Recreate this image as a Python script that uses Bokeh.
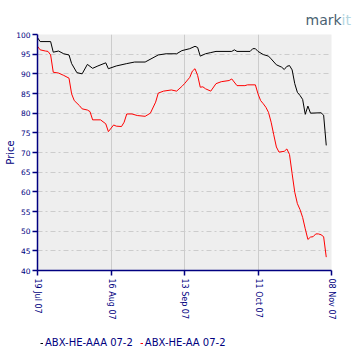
import pandas as pd
from bokeh.plotting import figure
from bokeh.layouts import column
from bokeh.models import (Range1d, FixedTicker, DatetimeTickFormatter, Legend,
                          LegendItem, ColumnDataSource, Div)
from bokeh.embed import file_html
from bokeh.resources import INLINE

start_date = "2007-07-19"
tick_dates = ["2007-07-19", "2007-08-16", "2007-09-13", "2007-10-11", "2007-11-08"]
y_ticks = [40, 45, 50, 55, 60, 65, 70, 75, 80, 85, 90, 95, 100]

aaa_days = [0, 1, 5, 6, 8, 10, 12, 13, 15, 17, 19, 21, 23, 26, 27, 30, 34, 37, 41, 46,
            49, 53, 55, 58, 60, 61, 62, 64, 66, 68, 74, 75, 76, 81, 82, 83, 84, 86, 88,
            89, 91, 93, 94, 95, 96, 97, 98, 99, 100, 101, 102, 103, 104, 108, 109, 110]
aaa_price = [99.2, 98.2, 98.2, 95.5, 95.8, 95.1, 94.8, 92.6, 90.3, 90.0, 92.4, 91.4, 92.0,
             92.8, 91.3, 92.0, 92.6, 93.0, 93.0, 94.8, 95.1, 95.1, 95.9, 96.4, 97.0, 96.7,
             94.5, 95.1, 95.4, 95.7, 95.7, 96.1, 95.7, 95.7, 96.4, 96.4, 95.7, 94.9, 94.5,
             93.8, 92.3, 91.7, 91.1, 91.9, 92.1, 91.0, 87.5, 85.3, 84.5, 83.5, 79.7, 81.8,
             80.0, 80.1, 79.5, 71.8]

aa_days = [0, 1, 3, 4, 5, 6, 8, 10, 12, 13, 14, 16, 17, 19, 20, 21, 24, 26, 27, 29, 30,
           32, 33, 34, 36, 38, 41, 43, 45, 46, 48, 51, 53, 55, 56, 58, 59, 60, 61, 62, 63,
           64, 66, 68, 70, 73, 74, 76, 79, 80, 83, 84, 85, 86, 87, 88, 89, 90, 91, 92, 94,
           95, 96, 97, 98, 99, 100, 101, 102, 103, 104, 105, 106, 107, 108, 109, 110]
aa_price = [97.0, 96.1, 95.8, 95.7, 94.8, 90.4, 90.2, 89.6, 88.9, 84.9, 83.2, 81.9, 81.1,
            80.8, 80.4, 78.3, 78.3, 77.3, 75.3, 77.0, 76.7, 76.6, 77.7, 79.8, 79.8, 79.4,
            79.2, 80.0, 82.8, 85.1, 85.6, 85.9, 85.6, 86.8, 87.5, 89.1, 90.7, 91.3, 89.6,
            86.6, 86.7, 86.2, 85.6, 87.5, 88.0, 88.3, 88.7, 87.0, 87.0, 87.2, 87.2, 84.9,
            83.2, 82.4, 81.5, 80.2, 77.7, 74.5, 71.4, 70.1, 70.3, 70.9, 69.5, 64.6, 59.9,
            57.0, 55.5, 53.5, 50.6, 47.9, 48.5, 48.6, 49.3, 49.3, 49.1, 48.6, 43.4]

series_names = ["ABX-HE-AAA 07-2", "ABX-HE-AA 07-2"]
y_title = "Price"
logo_parts = ["mark", "it"]

t0 = pd.Timestamp(start_date)
aaa_src = ColumnDataSource(dict(x=t0 + pd.to_timedelta(aaa_days, unit="D"), y=aaa_price))
aa_src = ColumnDataSource(dict(x=t0 + pd.to_timedelta(aa_days, unit="D"), y=aa_price))

ticks_dt = [pd.Timestamp(d) for d in tick_dates]
tick_ms = [d.value // 10**6 for d in ticks_dt]

NAVY = "#000080"
W = 360

# ---------- top strip: markit logo ----------
logo = Div(text=('<div style="font-family:\'DejaVu Sans\'; font-size:14px; '
                 'line-height:14px; text-align:right; width:360px; height:28px; '
                 'box-sizing:border-box; padding:13px 9px 0 0; margin:0;">'
                 f'<span style="color:#4a6272">{logo_parts[0]}</span>'
                 f'<span style="color:#b4d6df">{logo_parts[1]}</span></div>'),
           width=W, height=28, margin=0)

# ---------- main chart ----------
p = figure(width=W, height=294, output_backend="svg", toolbar_location=None,
           x_axis_type="datetime",
           x_range=Range1d(ticks_dt[0], ticks_dt[-1]), y_range=Range1d(40, 100),
           min_border_left=37, min_border_right=29, min_border_top=6,
           min_border_bottom=52)
p.background_fill_color = "#eeeeee"
p.border_fill_color = "white"
p.outline_line_color = None

p.line("x", "y", source=aaa_src, color="black", line_width=1)
p.line("x", "y", source=aa_src, color="#ff0000", line_width=1)

for ax in (p.xaxis[0], p.yaxis[0]):
    ax.axis_line_color = NAVY
    ax.axis_line_width = 1.5
    ax.major_tick_line_color = NAVY
    ax.major_tick_line_width = 1.5
    ax.minor_tick_line_color = None
    ax.major_tick_in = 0
    ax.major_tick_out = 5
    ax.major_label_text_color = NAVY
    ax.major_label_text_font = "DejaVu Sans"
    ax.major_label_text_font_size = "7.5px"

p.yaxis.ticker = FixedTicker(ticks=y_ticks)
p.yaxis.major_label_standoff = 2
p.yaxis.axis_label = y_title
p.yaxis.axis_label_standoff = -3
p.yaxis.axis_label_text_font = "DejaVu Sans"
p.yaxis.axis_label_text_font_size = "10px"
p.yaxis.axis_label_text_font_style = "normal"
p.yaxis.axis_label_text_color = NAVY

p.xaxis.ticker = FixedTicker(ticks=tick_ms)
p.xaxis.formatter = DatetimeTickFormatter(
    milliseconds="%d %b %y", seconds="%d %b %y", minsec="%d %b %y", minutes="%d %b %y",
    hourmin="%d %b %y", hours="%d %b %y", days="%d %b %y", months="%d %b %y",
    years="%d %b %y")
p.xaxis.major_label_orientation = "vertical"
p.xaxis.major_label_standoff = 3
p.xaxis.major_label_text_font_size = "8px"

p.xgrid.grid_line_color = "#cccccc"
p.xgrid.grid_line_width = 1
p.xgrid.ticker = FixedTicker(ticks=tick_ms)
p.ygrid.grid_line_color = "#cccccc"
p.ygrid.grid_line_width = 1
p.ygrid.grid_line_dash = "5 3 2 3"
p.ygrid.ticker = FixedTicker(ticks=y_ticks)

# ---------- bottom strip: legend ----------
p_leg = figure(width=W, height=38, output_backend="svg", toolbar_location=None,
               x_axis_type="datetime",
               x_range=Range1d(ticks_dt[0], ticks_dt[-1]), y_range=Range1d(0, 1),
               x_axis_location=None, y_axis_location=None,
               min_border_left=0, min_border_right=0, min_border_top=0,
               min_border_bottom=0)
p_leg.grid.visible = False
p_leg.outline_line_color = None
p_leg.background_fill_color = "white"
p_leg.border_fill_color = "white"
# series lines fall outside this strip's y range; they only supply the legend keys
l1 = p_leg.line("x", "y", source=aaa_src, color="black", line_width=1)
l2 = p_leg.line("x", "y", source=aa_src, color="#ff0000", line_width=1)

legend = Legend(items=[LegendItem(label=series_names[0], renderers=[l1]),
                       LegendItem(label=series_names[1], renderers=[l2])],
                orientation="horizontal", location=(3, 12),
                glyph_width=3, glyph_height=10, label_standoff=2, spacing=7,
                padding=0, margin=0, border_line_color=None,
                background_fill_alpha=0,
                label_text_font="DejaVu Sans", label_text_font_size="10px",
                label_text_color=NAVY, label_height=10)
p_leg.add_layout(legend, "center")

layout = column(logo, p, p_leg, spacing=0)
open("out.html", "w").write(file_html(layout, INLINE))
